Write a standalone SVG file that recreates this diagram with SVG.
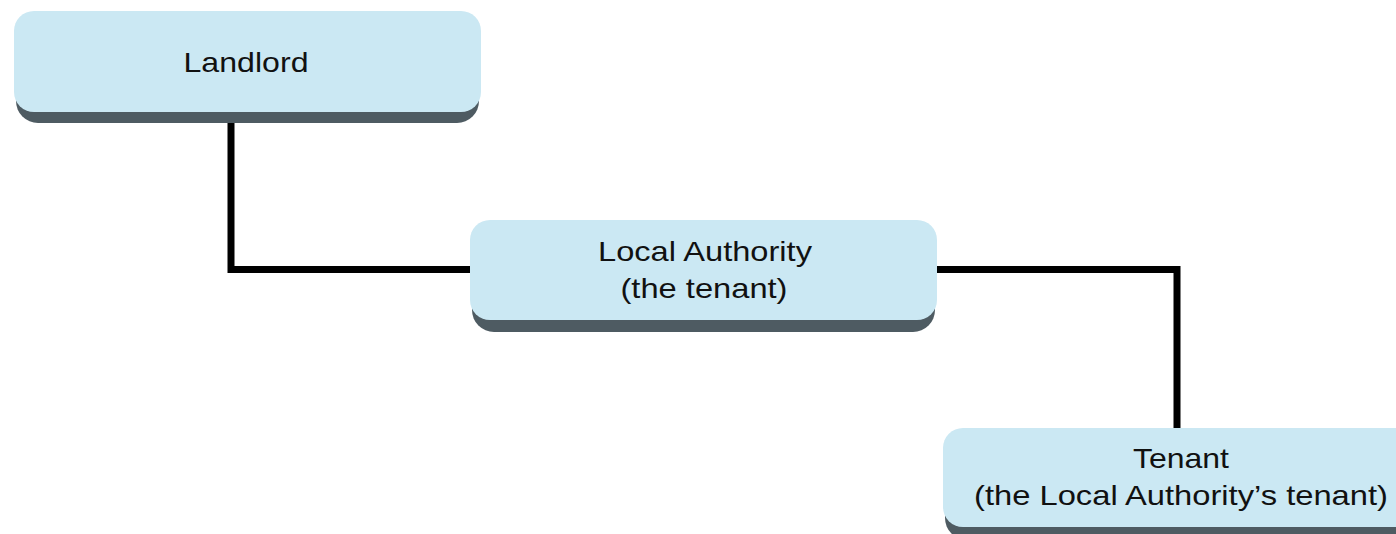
<svg xmlns="http://www.w3.org/2000/svg" width="1396" height="534" viewBox="0 0 1396 534">
<style>
.shadow{fill:#4e5b62}
.box{fill:#cbe8f3}
.t{font-family:"Liberation Sans",Arial,sans-serif;font-size:28px;fill:#111;text-anchor:middle}
.c{fill:none;stroke:#000;stroke-width:7;stroke-linejoin:miter}
</style>
<rect width="1396" height="534" fill="#fff"/>
<g id="connectors">
<path class="c" d="M231,112 V269.5 H471"/>
<path class="c" d="M936,269.5 H1177 V429"/>
</g>
<g id="landlord">
<rect class="shadow" x="16" y="22" width="463" height="101" rx="22"/>
<rect class="box" x="14" y="11" width="467" height="101" rx="20"/>
<text class="t" x="246" y="72" textLength="125" lengthAdjust="spacingAndGlyphs">Landlord</text>
</g>
<g id="local-authority">
<rect class="shadow" x="472" y="231" width="463" height="101" rx="22"/>
<rect class="box" x="470" y="220" width="467" height="100" rx="20"/>
<text class="t" x="705" y="261" textLength="214" lengthAdjust="spacingAndGlyphs">Local Authority</text>
<text class="t" x="704" y="298" textLength="167" lengthAdjust="spacingAndGlyphs">(the tenant)</text>
</g>
<g id="tenant">
<rect class="shadow" x="945" y="439" width="470" height="101" rx="22"/>
<rect class="box" x="943" y="428" width="472" height="99" rx="20"/>
<text class="t" x="1181" y="468" textLength="96" lengthAdjust="spacingAndGlyphs">Tenant</text>
<text class="t" x="1181" y="505" textLength="414" lengthAdjust="spacingAndGlyphs">(the Local Authority’s tenant)</text>
</g>
</svg>
